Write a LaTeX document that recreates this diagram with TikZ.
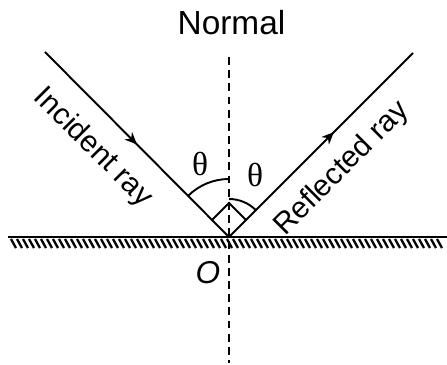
\documentclass[tikz,border=0pt]{standalone}
\usepackage{fontspec}
\setmainfont{Liberation Sans}
\newfontfamily\thetafont{Liberation Serif}
\usepackage{tikz}
\usetikzlibrary{arrows.meta, decorations.markings}

\tikzset{
  ray/.style={line width=1.1pt},
  normalline/.style={line width=1pt, dash pattern=on 4.5pt off 3pt},
  hatchline/.style={line width=1.3pt},
  midarrow/.style={postaction={decorate, decoration={markings,
      mark=at position #1 with {\arrow{Stealth[length=7pt,width=6pt]}}}}},
  lbl/.style={font=\fontsize{17}{19}\selectfont, inner sep=0pt},
  anglbl/.style={font=\fontsize{19}{21}\selectfont\thetafont, inner sep=0pt}
}

\begin{document}
\begin{tikzpicture}[x=0.02cm, y=0.02cm]
      \useasboundingbox (-229,-128) rectangle (218,237);

      % Points
      \coordinate (O) at (0,0);
      \coordinate (inc) at (-184,185);
      \coordinate (refl) at (184,184);
      \coordinate (ntop) at (0,180);
      \coordinate (nbot) at (0,-126);
      \coordinate (sleft) at (-221,0);
      \coordinate (sright) at (218,0);

      % Surface with hatching
      \foreach \x in {-218,-212,...,212}
        \draw[hatchline] (\x,-2) -- ++(5,-9);
      \draw[line width=1.3pt] (sleft) -- (sright);

      % Normal
      \draw[normalline] (ntop) -- (nbot);
      \node[font=\fontsize{19}{21}\selectfont, inner sep=0pt] (normal) at (2.5,214) {Normal};

      % Rays
      \draw[ray, midarrow=0.5] (inc) -- (O);
      \draw[ray, midarrow=0.57] (O) -- (refl);
      \node[lbl, rotate=-45] (inclbl) at (-136,89) {Incident ray};
      \node[lbl, rotate=45] (refllbl) at (113,68) {Reflected ray};

      % Angles
      \draw[ray] (O) ++(135:58) arc (135:90:58);
      \draw[ray] (O) ++(90:38) arc (90:45:38);
      \draw[ray] (O) ++(135:24) -- ++(45:24) -- ++(-45:24);
      \node[anglbl] (thetai) at (-29,73) {θ};
      \node[anglbl] (thetar) at (26,62) {θ};

      \node[font=\fontsize{18}{20}\selectfont\itshape, inner sep=0pt] (olbl) at (-21,-36) {O};
    \end{tikzpicture}
\end{document}
